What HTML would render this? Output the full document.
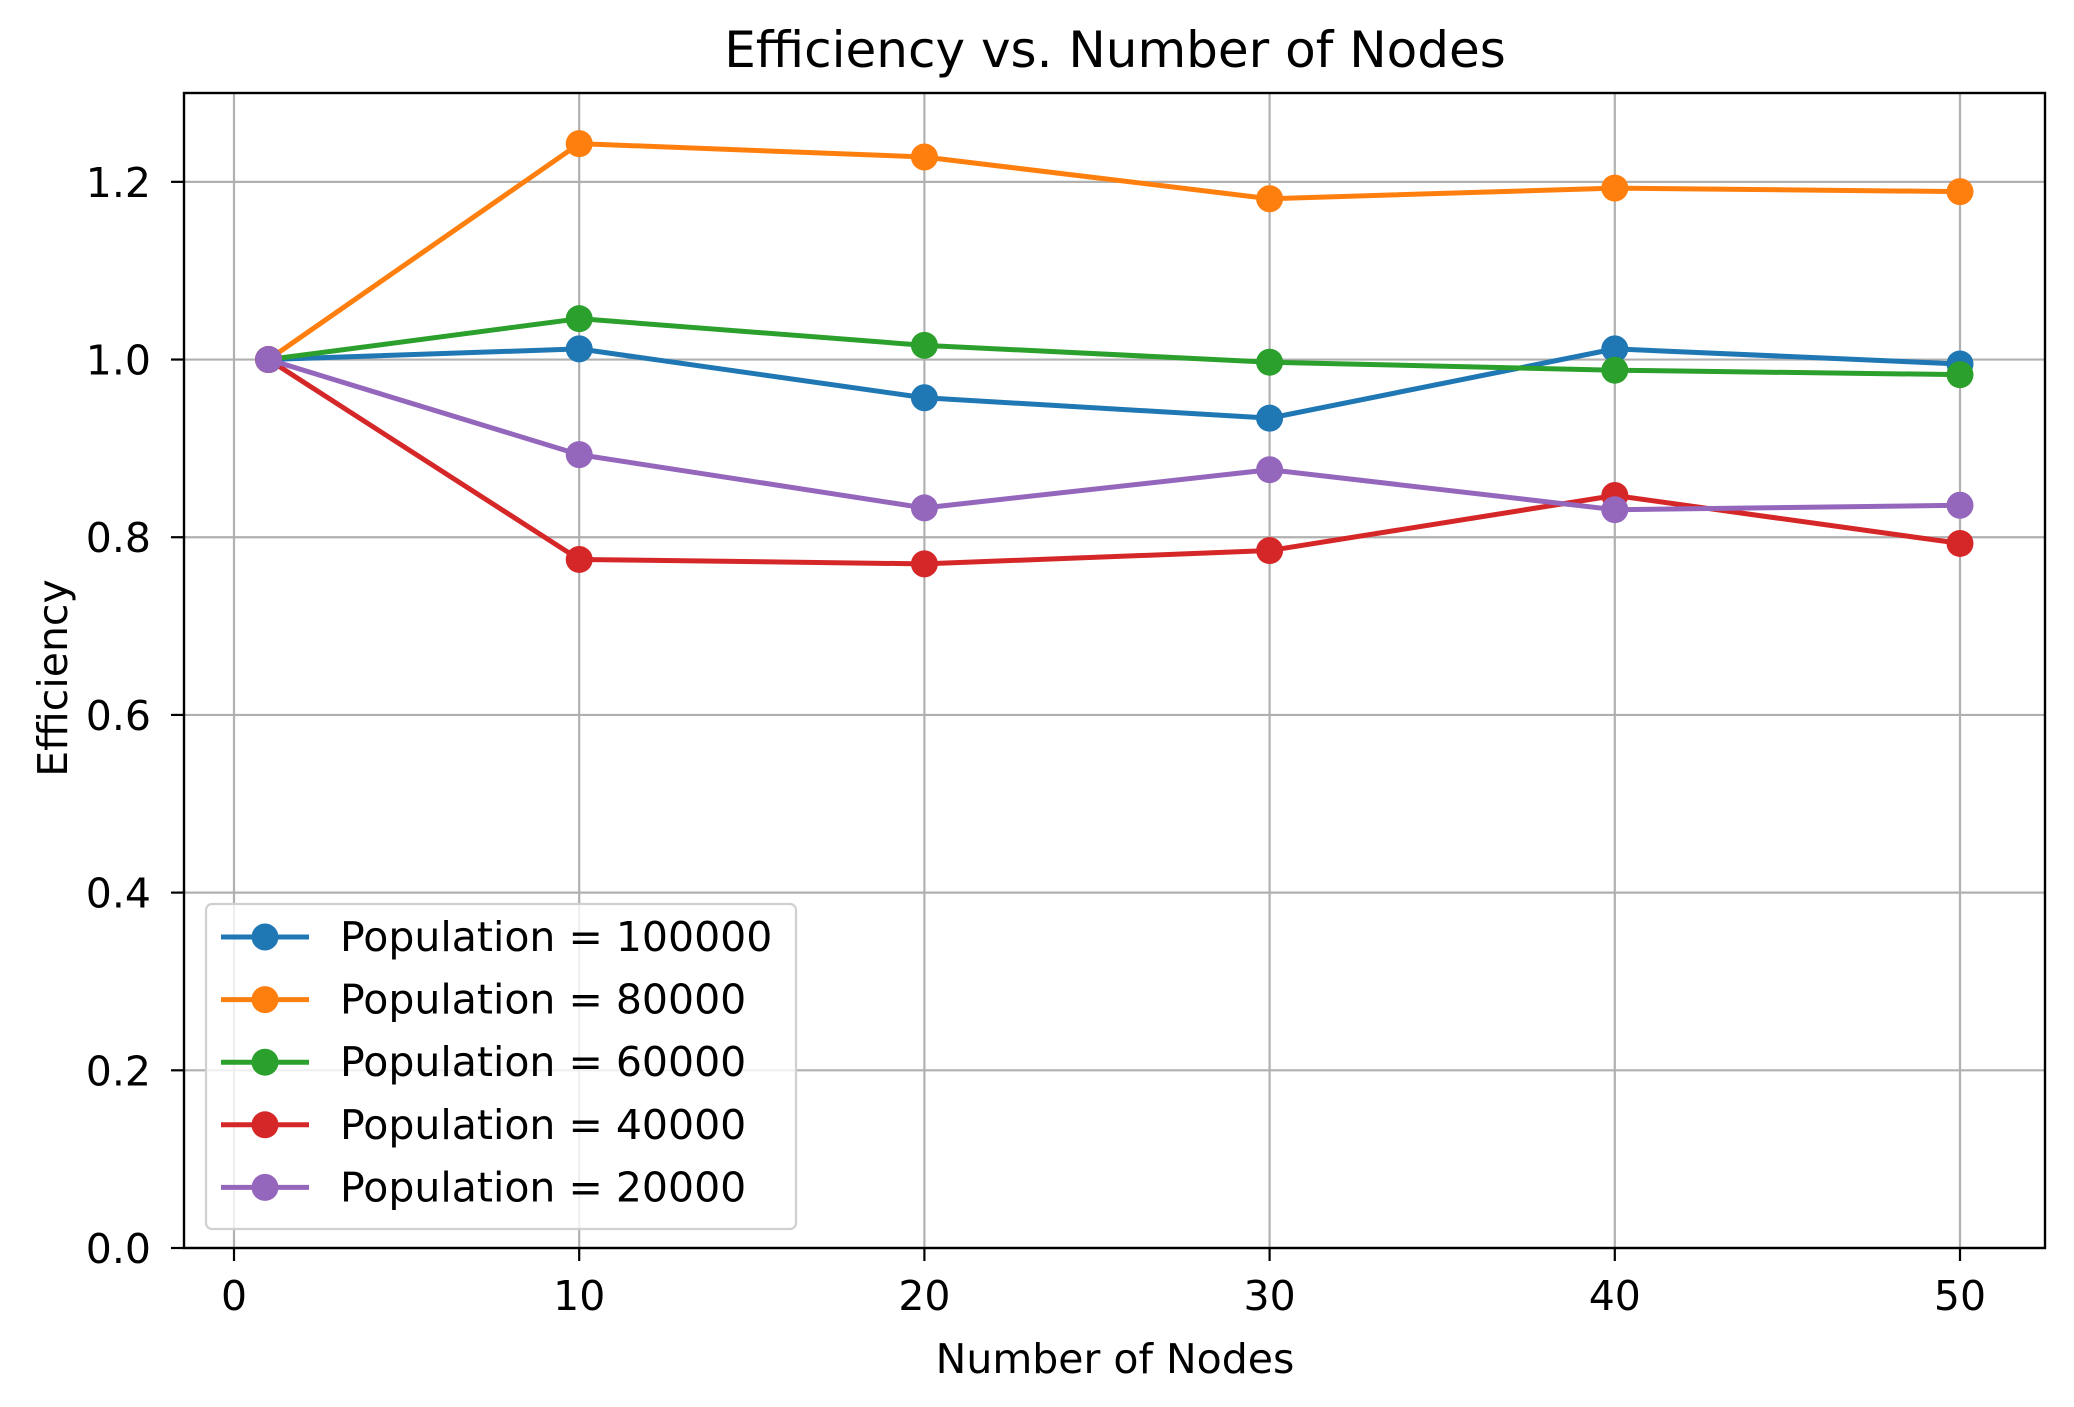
<!DOCTYPE html>
<html><head><meta charset="utf-8"><style>
html,body{margin:0;padding:0;background:#fff;}
svg{display:block;font-family:"DejaVu Sans","Liberation Sans",sans-serif;}
</style></head><body>
<svg id="chart" width="2074" height="1407" viewBox="0 0 2074 1407">
<rect x="0" y="0" width="2074" height="1407" fill="#fff"/>
<g id="grid"></g>
<g id="series"></g>
<rect x="184" y="93" width="1861" height="1155" fill="none" stroke="#000" stroke-width="2.4"/>
<g id="ticks"></g>
<text x="1115" y="67" text-anchor="middle" font-size="50">Efficiency vs. Number of Nodes</text>
<text x="1115" y="1373" text-anchor="middle" font-size="41">Number of Nodes</text>
<text x="0" y="0" transform="translate(67,678) rotate(-90)" text-anchor="middle" font-size="41">Efficiency</text>
<g id="legend"></g>
</svg>
<script>
const nodes = [1, 10, 20, 30, 40, 50];
const seriesNames = ["Population = 100000", "Population = 80000", "Population = 60000", "Population = 40000", "Population = 20000"];
const pop100000 = [1.0, 1.012, 0.957, 0.934, 1.012, 0.995];
const pop80000 = [1.0, 1.243, 1.228, 1.181, 1.193, 1.189];
const pop60000 = [1.0, 1.046, 1.016, 0.997, 0.988, 0.983];
const pop40000 = [1.0, 0.775, 0.770, 0.785, 0.847, 0.793];
const pop20000 = [1.0, 0.893, 0.833, 0.876, 0.831, 0.836];
const xTicks = [0, 10, 20, 30, 40, 50];
const yTicks = [0.0, 0.2, 0.4, 0.6, 0.8, 1.0, 1.2];

const NS = "http://www.w3.org/2000/svg";
const L = 184, R = 2045, T = 93, B = 1248;
function xs(v){ return 234 + (v - 0) * (1960 - 234) / 50; }
function ys(v){ return B - v * (B - T) / 1.3; }
function mk(tag, attrs, parent){ const e = document.createElementNS(NS, tag); for (const k in attrs) e.setAttribute(k, attrs[k]); parent.appendChild(e); return e; }

const grid = document.getElementById('grid');
const ticks = document.getElementById('ticks');
xTicks.forEach(t => {
  const g = mk('line', {x1: xs(t), x2: xs(t), y1: T, y2: B, stroke: '#b0b0b0', 'stroke-width': 2.2}, grid);
  
  
  const tk = mk('line', {x1: xs(t), x2: xs(t), y1: B, y2: B + 13, stroke: '#000', 'stroke-width': 2.2}, ticks);
  
  
  const tx = mk('text', {x: xs(t), y: B + 62, 'text-anchor': 'middle', 'font-size': 41}, ticks);
  tx.textContent = String(t);
  
  
});
yTicks.forEach(t => {
  const g = mk('line', {x1: L, x2: R, y1: ys(t), y2: ys(t), stroke: '#b0b0b0', 'stroke-width': 2.2}, grid);
  
  
  const tk = mk('line', {x1: L - 13, x2: L, y1: ys(t), y2: ys(t), stroke: '#000', 'stroke-width': 2.2}, ticks);
  
  
  const tx = mk('text', {x: L - 33, y: ys(t) + 15, 'text-anchor': 'end', 'font-size': 41}, ticks);
  tx.textContent = t.toFixed(1);
  
  
});

const colors = ['#1f77b4', '#ff7f0e', '#2ca02c', '#d62728', '#9467bd'];
const allSeries = [pop100000, pop80000, pop60000, pop40000, pop20000];
const sg = document.getElementById('series');
allSeries.forEach((vals, i) => {
  const g = mk('g', {}, sg);
  
  
  const pts = vals.map((v, j) => xs(nodes[j]) + ',' + ys(v)).join(' ');
  const pl = mk('polyline', {points: pts, fill: 'none', stroke: colors[i], 'stroke-width': 5, 'stroke-linejoin': 'round'}, g);
  
  
  vals.forEach((v, j) => {
    const c = mk('circle', {cx: xs(nodes[j]), cy: ys(v), r: 13.5, fill: colors[i]}, g);
    
    
  });
});

const lg = document.getElementById('legend');
const box = mk('rect', {x: 206, y: 904, width: 590, height: 325, rx: 6, fill: '#fff', 'fill-opacity': 0.8, stroke: '#d0d0d0', 'stroke-width': 2.2}, lg);


seriesNames.forEach((n, i) => {
  const y = 937 + i * 62.6;
  const g = mk('g', {}, lg);
  
  
  mk('line', {x1: 221, x2: 309, y1: y, y2: y, stroke: colors[i], 'stroke-width': 5}, g);
  mk('circle', {cx: 265, cy: y, r: 13.5, fill: colors[i]}, g);
  const t = mk('text', {x: 340, y: y + 14, 'font-size': 41}, g);
  t.textContent = n;
});
</script>
</body></html>
